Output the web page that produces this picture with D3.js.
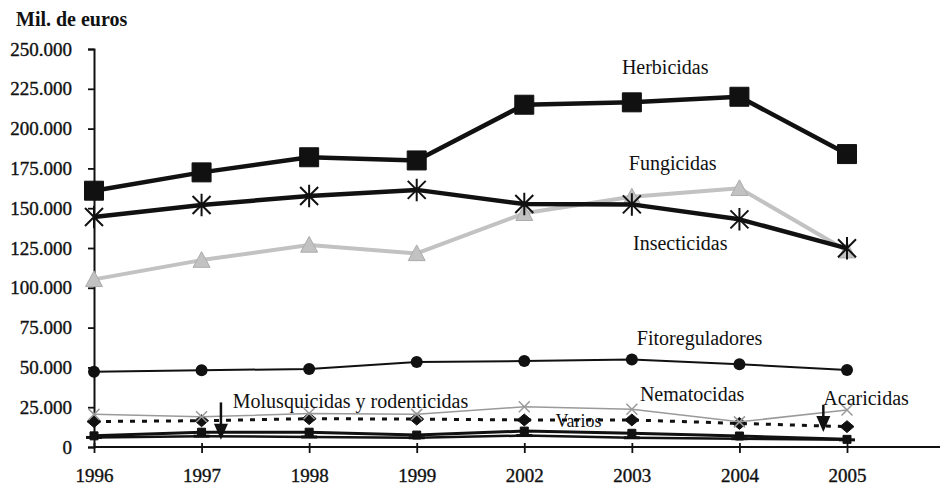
<!DOCTYPE html>
<html lang="es">
<head>
  <meta charset="UTF-8">
  <title>Mil. de euros por tipo de producto</title>
  <script src="https://d3js.org/d3.v7.min.js"></script>
  <style>
    body { margin: 0; background: #fff; }
    svg text { font-family: "Liberation Serif", "Times New Roman", serif; fill: #111; }
    svg .heavy { stroke: #111; stroke-width: 0.35px; }
  </style>
</head>
<body>
  <svg width="946" height="490"></svg>

  <script>
    // Data (miles de euros)
    const years = ["1996", "1997", "1998", "1999", "2002", "2003", "2004", "2005"];
    const herbicidas      = [161000, 172500, 182000, 180000, 215000, 216500, 220000, 184000];
    const insecticidas    = [144500, 152000, 157700, 161500, 152600, 152400, 143000, 124800];
    const fungicidas      = [105300, 117400, 126900, 121600, 146800, 157200, 162500, 123300];
    const fitoreguladores = [47300, 48200, 49000, 53400, 54000, 55000, 52000, 48400];
    const nematocidas     = [20500, 19000, 21000, 20500, 25300, 23700, 15800, 23200];
    const molusquicidas   = [16000, 16500, 17800, 17500, 17000, 17000, 14800, 12800];
    const varios          = [7000, 9300, 9300, 7500, 10000, 8600, 6900, 4800];
    const acaricidas      = [6000, 6800, 6300, 5800, 7200, 5800, 5200, 4500];
    const yTicks = [0, 25000, 50000, 75000, 100000, 125000, 150000, 175000, 200000, 225000, 250000];

    const svg = d3.select("svg");
    const width = +svg.attr("width");

    const x = d3.scalePoint().domain(years).range([94, 847]);
    const y = d3.scaleLinear().domain([0, 250000]).range([447, 49]);

    const fmt = d3.formatLocale({decimal: ",", thousands: ".", grouping: [3], currency: ["", "€"]}).format(",d");

    // y axis
    const yAxis = svg.append("g")
      .attr("transform", "translate(94,0)")
      .call(d3.axisLeft(y).tickValues(yTicks).tickSize(6).tickFormat(fmt));
    yAxis.select(".domain").attr("stroke", "#111").attr("stroke-width", 2);
    yAxis.selectAll(".tick line").attr("stroke", "#111").attr("stroke-width", 1.8);
    yAxis.selectAll(".tick text")
      .attr("x", -22)
      .attr("class", "heavy")
      .style("font-size", "19px")
      .style("font-family", "Liberation Serif")
      .attr("fill", "#111");

    // x axis (baseline runs on to the right edge)
    const xAxis = svg.append("g")
      .attr("transform", "translate(0,447)")
      .call(d3.axisBottom(x).tickSize(6).tickSizeOuter(0));
    xAxis.select(".domain").remove();
    xAxis.append("line")
      .attr("x1", x.range()[0]).attr("x2", width - 6)
      .attr("stroke", "#111").attr("stroke-width", 2);
    xAxis.selectAll(".tick line").attr("y1", -4).attr("y2", 6).attr("stroke", "#111").attr("stroke-width", 1.8);
    xAxis.selectAll(".tick text")
      .attr("y", 22)
      .attr("class", "heavy")
      .style("font-size", "19px")
      .style("font-family", "Liberation Serif")
      .attr("fill", "#111");

    svg.append("text")
      .attr("x", 16).attr("y", 26)
      .style("font-size", "20px").style("font-weight", "bold")
      .text("Mil. de euros");

    // marker shapes
    const markers = {
      square: s => `M${-s},${-s}H${s}V${s}H${-s}Z`,
      triangle: s => `M0,${-s}L${s},${s * 0.85}H${-s}Z`,
      diamond: s => `M0,${-s * 0.85}L${s},0L0,${s * 0.85}L${-s},0Z`,
      cross: s => `M${-s},${-s}L${s},${s}M${-s},${s}L${s},${-s}`,
      star: s => `M${-s},${-s}L${s},${s}M${-s},${s}L${s},${-s}M0,${-s * 1.25}V${s * 1.25}`,
      dash: s => `M${-s},0H${s}`
    };

    const series = [
      {name: "Acaricidas", values: acaricidas, color: "#111", width: 2.5, marker: "dash", size: 8, filled: false, mw: 3},
      {name: "Varios", values: varios, color: "#111", width: 3, marker: "square", size: 4, filled: true},
      {name: "Molusquicidas y rodenticidas", values: molusquicidas, color: "#111", width: 3, dash: "5,7", marker: "diamond", size: 7, filled: true},
      {name: "Nematocidas", values: nematocidas, color: "#9a9a9a", width: 1.5, marker: "cross", size: 5.5, filled: false, mw: 1.5},
      {name: "Fitoreguladores", values: fitoreguladores, color: "#111", width: 2, marker: "circle", size: 6, filled: true},
      {name: "Fungicidas", values: fungicidas, color: "#c2c2c2", width: 4, marker: "triangle", size: 8.5, filled: true},
      {name: "Insecticidas", values: insecticidas, color: "#111", width: 4.5, marker: "star", size: 9, filled: false, mw: 2},
      {name: "Herbicidas", values: herbicidas, color: "#111", width: 4.5, marker: "square", size: 9.5, filled: true}
    ];

    const line = d3.line().x((d, i) => x(years[i])).y(d => y(d));

    series.forEach(s => {
      const g = svg.append("g").attr("class", "series");
      g.append("path")
        .datum(s.values)
        .attr("d", line)
        .attr("fill", "none")
        .attr("stroke", s.color)
        .attr("stroke-width", s.width)
        .attr("stroke-dasharray", s.dash || null)
        .attr("stroke-linejoin", "round");

      const pts = g.selectAll(".pt")
        .data(s.values)
        .enter();
      if (s.marker === "circle") {
        pts.append("circle")
          .attr("cx", (d, i) => x(years[i]))
          .attr("cy", d => y(d))
          .attr("r", s.size)
          .attr("fill", s.color);
      } else {
        pts.append("path")
          .attr("transform", (d, i) => `translate(${x(years[i])},${y(d)})`)
          .attr("d", markers[s.marker](s.size))
          .attr("fill", s.filled ? s.color : "none")
          .attr("stroke", s.marker === "triangle" ? "#acacac" : s.color)
          .attr("stroke-width", s.filled ? 1 : s.mw);
      }
    });

    // series labels, placed with the scales
    const step = x.step();
    const labels = [
      {text: "Herbicidas", at: ["2003", 0.31], v: 234500, anchor: "middle"},
      {text: "Fungicidas", at: ["2003", 0.38], v: 174000, anchor: "middle"},
      {text: "Insecticidas", at: ["2003", 0.45], v: 123700, anchor: "middle"},
      {text: "Fitoreguladores", at: ["2003", 0.63], v: 64000, anchor: "middle"},
      {text: "Nematocidas", at: ["2003", 0.56], v: 28900, anchor: "middle"},
      {text: "Acaricidas", at: ["2005", -0.22], v: 26400, anchor: "start"},
      {text: "Molusquicidas y rodenticidas", at: ["1997", 0.29], v: 24500, anchor: "start"},
      {text: "Varios", at: ["2002", 0.29], v: 12600, anchor: "start"}
    ];
    svg.selectAll(".lbl")
      .data(labels)
      .enter()
      .append("text")
      .attr("class", "lbl")
      .attr("x", d => x(d.at[0]) + d.at[1] * step)
      .attr("y", d => y(d.v))
      .attr("text-anchor", d => d.anchor)
      .style("font-size", d => d.text === "Varios" ? "18px" : "20px")
      .text(d => d.text);

    // pointer arrows
    const arrows = [
      {at: ["1997", 0.18], from: 28000, to: 4500},
      {at: ["2005", -0.22], from: 26500, to: 9500}
    ];
    arrows.forEach(a => {
      const ax = x(a.at[0]) + a.at[1] * step;
      const y0 = y(a.from), y1 = y(a.to);
      svg.append("line")
        .attr("x1", ax).attr("x2", ax)
        .attr("y1", y0).attr("y2", y1 - 10)
        .attr("stroke", "#111").attr("stroke-width", 2.5);
      svg.append("path")
        .attr("d", `M${ax - 7},${y1 - 16}L${ax + 7},${y1 - 16}L${ax},${y1}Z`)
        .attr("fill", "#111");
    });
  </script>
</body>
</html>
